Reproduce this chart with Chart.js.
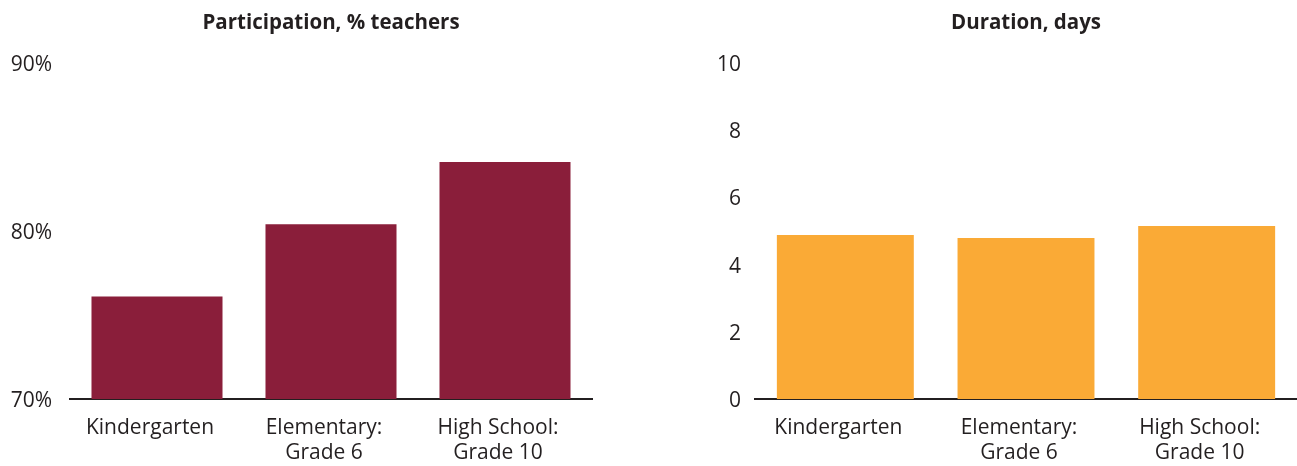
<!DOCTYPE html>
<html>
<head>
<meta charset="utf-8">
<script src="https://cdn.jsdelivr.net/npm/chart.js@4/dist/chart.umd.min.js"></script>
<style>
  html, body { margin: 0; padding: 0; background: #ffffff; }
  body { width: 1297px; height: 466px; position: relative; overflow: hidden; }
  canvas { position: absolute; top: 0; }
  #c1 { left: 0; }
  #c2 { left: 650px; }
</style>
</head>
<body>
<canvas id="c1" width="640" height="466"></canvas>
<canvas id="c2" width="647" height="466"></canvas>
<script>
const categories = [["Kindergarten"], ["Elementary:", "Grade 6"], ["High School:", "Grade 10"]];
const participationValues = [76.1, 80.4, 84.1];
const durationValues = [4.88, 4.79, 5.15];
const participationTicks = [70, 80, 90];
const durationTicks = [0, 2, 4, 6, 8, 10];
const titles = ["Participation, % teachers", "Duration, days"];

const TEXT = '#231f20';
const FONT = "'Open Sans', 'Noto Sans', sans-serif";

const areaTitle = {
  id: 'areaTitle',
  afterDraw(chart, args, opts) {
    const ctx = chart.ctx;
    const a = chart.chartArea;
    ctx.save();
    ctx.font = 'bold 20.5px ' + FONT;
    ctx.fillStyle = TEXT;
    ctx.textAlign = 'center';
    ctx.textBaseline = 'middle';
    ctx.fillText(opts.text, (a.left + a.right) / 2, 23);
    ctx.restore();
  }
};

function makeChart(id, values, color, tickVals, fmt, yWidth, yPad, padRight, barPct, titleText) {
  return new Chart(document.getElementById(id), {
    type: 'bar',
    data: {
      labels: categories,
      datasets: [{
        data: values,
        backgroundColor: color,
        borderWidth: 0,
        categoryPercentage: 1.0,
        barPercentage: barPct
      }]
    },
    options: {
      responsive: false,
      animation: false,
      devicePixelRatio: 1,
      layout: { padding: { top: 63, right: padRight, bottom: 0, left: 0 } },
      plugins: {
        legend: { display: false },
        tooltip: { enabled: false },
        title: { display: false },
        areaTitle: { text: titleText }
      },
      scales: {
        x: {
          grid: { display: false, drawTicks: false },
          border: { display: true, color: TEXT, width: 2 },
          ticks: {
            color: TEXT,
            font: { family: FONT, size: 21 },
            padding: 16,
            labelOffset: -7,
            maxRotation: 0,
            autoSkip: false
          },
          afterFit(scale) { scale.height = 67; }
        },
        y: {
          min: tickVals[0],
          max: tickVals[tickVals.length - 1],
          afterBuildTicks(scale) { scale.ticks = tickVals.map(v => ({ value: v })); },
          grid: { display: false, drawTicks: false },
          border: { display: false },
          ticks: {
            color: TEXT,
            font: { family: FONT, size: 21 },
            padding: yPad,
            labelOffset: 2,
            callback: fmt
          },
          afterFit(scale) { scale.width = yWidth; }
        }
      }
    },
    plugins: [areaTitle]
  });
}

makeChart('c1', participationValues, '#8a1e3a', participationTicks, v => v + '%', 70, 18, 48, 0.753, titles[0]);
makeChart('c2', durationValues, '#faaa36', durationTicks, v => String(v), 105, 14, 0, 0.758, titles[1]);
</script>
</body>
</html>
